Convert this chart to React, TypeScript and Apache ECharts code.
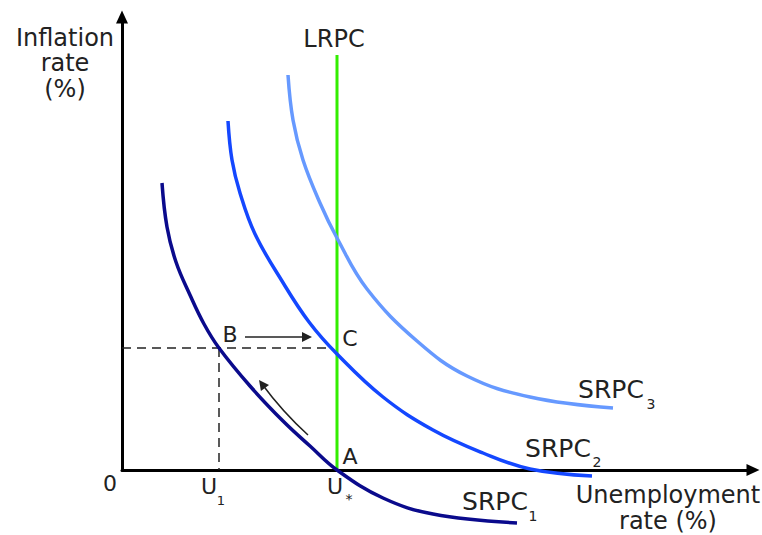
import React, { useEffect, useRef } from "react";
import * as echarts from "echarts";

// Abstract units (unemployment rate on x, inflation rate on y); U* = natural rate
const U1 = 9.7;
const USTAR = 21.5;
const PI_B = 12.2;

const srpc1: [number, number][] = [
  [4.0, 28.7], [4.5, 24.3], [5.4, 20.8], [6.8, 17.5], [8.2, 14.6], [9.7, 12.2],
  [12.8, 8.4], [16.1, 4.9], [18.8, 2.4], [21.5, 0], [26.1, -2.8], [31.1, -4.4], [39.5, -5.3],
];
const srpc2: [number, number][] = [
  [10.6, 34.9], [11.0, 31.0], [11.8, 27.7], [13.3, 23.6], [16.0, 18.9], [18.7, 14.8],
  [21.5, 11.6], [26.1, 7.3], [31.1, 4.0], [36.1, 1.7], [40.8, 0.1], [47.0, -0.6],
];
const srpc3: [number, number][] = [
  [16.6, 39.5], [17.1, 35.0], [18.1, 31.0], [19.8, 26.7], [21.5, 23.2], [24.5, 18.1],
  [29.5, 12.9], [34.5, 9.4], [40.8, 7.3], [49.1, 6.2],
];
const lrpc: [number, number][] = [[USTAR, 0], [USTAR, 41.5]];
const dashH: [number, number][] = [[0, PI_B], [20.8, PI_B]];
const dashV: [number, number][] = [[U1, PI_B], [U1, 0]];
const arrowBC: [number, number][] = [[12.3, 13.3], [18.5, 13.3]];
const arrowAB: [number, number][] = [[18.6, 3.5], [14.0, 8.6]];

const X_MAX = 63.1;
const Y_MAX = 45.3;

const FONT = "'DejaVu Sans', Verdana, sans-serif";
const TXT = "#222";

function txt(text: string, x: number, y: number, size: number, lineHeight?: number) {
  return {
    type: "text",
    x,
    y,
    style: {
      text,
      fill: TXT,
      font: `${size}px ${FONT}`,
      textAlign: "center",
      textVerticalAlign: "middle",
      lineHeight,
    },
    silent: true,
  };
}

export default function App() {
  const ref = useRef<HTMLDivElement>(null);
  useEffect(() => {
    if (!ref.current) return;
    const chart = echarts.init(ref.current, undefined, { renderer: "svg" });
    const curve = (data: [number, number][], color: string, width = 3.5) => ({
      type: "line",
      data,
      smooth: 0.4,
      showSymbol: false,
      symbol: "none",
      clip: false,
      lineStyle: { color, width },
      silent: true,
    });
    const dashed = (data: [number, number][]) => ({
      type: "line",
      data,
      showSymbol: false,
      symbol: "none",
      lineStyle: { color: "#222", width: 1.5, type: [9, 6] },
      silent: true,
    });
    const arrow = (coords: [number, number][], curveness = 0) => ({
      type: "lines",
      coordinateSystem: "cartesian2d",
      data: [{ coords }],
      symbol: ["none", "triangle"],
      symbolSize: 10,
      lineStyle: { color: "#222", width: 1.5, opacity: 1, curveness },
      silent: true,
    });
    chart.setOption({
      animation: false,
      grid: { left: 122, right: 9, top: 17, bottom: 65 },
      xAxis: {
        type: "value",
        min: 0,
        max: X_MAX,
        axisLine: {
          show: true,
          symbol: ["none", "triangle"],
          symbolSize: [12, 13],
          lineStyle: { color: "#000", width: 3 },
        },
        axisTick: { show: false },
        axisLabel: { show: false },
        splitLine: { show: false },
      },
      yAxis: {
        type: "value",
        min: 0,
        max: Y_MAX,
        axisLine: {
          show: true,
          symbol: ["none", "triangle"],
          symbolSize: [12, 13],
          lineStyle: { color: "#000", width: 3 },
        },
        axisTick: { show: false },
        axisLabel: { show: false },
        splitLine: { show: false },
      },
      series: [
        dashed(dashH),
        dashed(dashV),
        {
          type: "line",
          data: lrpc,
          showSymbol: false,
          symbol: "none",
          lineStyle: { color: "#33ee00", width: 3 },
          silent: true,
        },
        curve(srpc3, "#6699ff"),
        curve(srpc2, "#1447ff"),
        curve(srpc1, "#0a0a8c"),
        arrow(arrowBC),
        arrow(arrowAB, 0.05),
      ],
      graphic: [
        txt("Inflation\nrate\n(%)", 65, 63, 24, 25.5),
        txt("LRPC", 334, 39, 24),
        txt("Unemployment\nrate (%)", 668, 508, 24, 26),
        txt("0", 110, 483, 22),
        txt("U", 209, 486, 22),
        txt("1", 221, 500, 13),
        txt("U", 335, 486, 22),
        txt("*", 349, 499, 14),
        txt("A", 350, 456, 22),
        txt("B", 230, 334, 22),
        txt("C", 350, 338, 22),
        txt("SRPC", 611, 389, 25),
        txt("3", 651, 404, 14),
        txt("SRPC", 558, 448, 25),
        txt("2", 597, 462, 14),
        txt("SRPC", 495, 501, 25),
        txt("1", 533, 516, 14),
      ],
    });
    return () => chart.dispose();
  }, []);
  return (
    <div
      ref={ref}
      style={{ position: "fixed", left: 0, top: 0, width: 762, height: 535, background: "#fff" }}
    />
  );
}
